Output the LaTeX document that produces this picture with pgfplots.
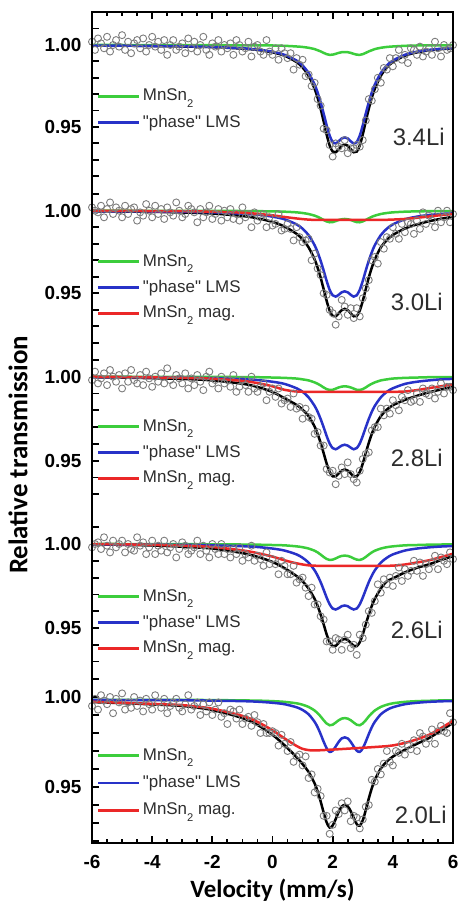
\documentclass[border=0pt]{standalone}
\usepackage{fontspec}
\setmainfont{Liberation Sans}
\newfontfamily\labelfont{Carlito}
\usepackage{pgfplots}
\pgfplotsset{compat=1.18}

\definecolor{cgreen}{RGB}{60,205,60}
\definecolor{cblue}{RGB}{40,50,200}
\definecolor{cred}{RGB}{235,40,40}
\definecolor{cdots}{RGB}{125,125,125}
\definecolor{ctext}{RGB}{45,45,45}

% chemical subscript used in the legend entries
\newcommand\sub[1]{\raisebox{-0.38em}{\fontsize{5.6}{6}\selectfont #1}}
\newcommand\phaseLMS{\textquotedbl phase\textquotedbl\ LMS}

\pgfplotsset{
  panel/.style={
    width=180.5bp, scale only axis, anchor=north west,
    xmin=-6, xmax=6,
    axis line style={draw=none},
    tick align=inside,
    ytick pos=left,
    xtick={-6,-4,...,6}, minor x tick num=3,
    major tick length=3.5bp, minor tick length=2bp,
    tick style={black, line width=0.9bp},
    tick label style={font=\fontsize{9.5}{10}\selectfont\bfseries},
    yticklabel style={xshift=-1.8bp},
    legend cell align=left,
    legend style={draw=none, fill=none, inner sep=0pt, outer sep=0pt,
      font=\fontsize{8.5}{9}\selectfont, text=ctext,
      anchor=north west, row sep=4.2bp, column sep=0.6bp,
      nodes={inner sep=0.6bp}},
    legend image code/.code={\draw[##1] (0bp,0bp) -- (20.5bp,0bp);},
  },
  dots/.style={only marks, mark=o, mark size=1.75bp, color=cdots,
    mark options={line width=0.45bp}, forget plot},
  fitline/.style={line width=1.25bp, smooth, no markers},
}
\tikzset{sample/.style={anchor=east, inner sep=0pt, text=ctext,
    font=\fontsize{12}{14}\selectfont}}

\begin{document}
\begin{tikzpicture}
\useasboundingbox (0bp,0bp) rectangle (229bp,-451bp);

% ---------------- 3.4Li ----------------
\begin{axis}[panel, at={(46bp,-6bp)}, height=84bp,
  ymin=0.91768, ymax=1.02012,
  xtick pos=right, xticklabels={},
  ytick={0.92,0.93,0.94,0.95,0.96,0.97,0.98,0.99,1.00,1.01},
  yticklabels={,,,0.95,,,,,1.00,},
  legend style={at={(axis cs:-5.834,0.9738)}}]
\addplot[dots] coordinates {
(-6.0,1.002)(-5.9,0.997)(-5.8,1.004)(-5.7,1.001)(-5.6,0.998)(-5.5,1.005)(-5.4,0.996)(-5.3,1.000)(-5.2,1.003)(-5.1,0.999)
(-5.0,1.006)(-4.9,0.997)(-4.8,1.002)(-4.7,0.995)(-4.6,1.001)(-4.5,1.003)(-4.4,0.998)(-4.3,1.004)(-4.2,0.996)(-4.1,1.000)
(-4.0,1.005)(-3.9,0.999)(-3.8,1.002)(-3.7,0.997)(-3.6,1.003)(-3.5,0.994)(-3.4,1.000)(-3.3,1.003)(-3.2,0.997)(-3.1,0.999)
(-3.0,1.001)(-2.9,0.995)(-2.8,1.004)(-2.7,0.998)(-2.6,1.002)(-2.5,0.996)(-2.4,1.000)(-2.3,1.005)(-2.2,0.997)(-2.1,0.994)
(-2.0,1.001)(-1.9,0.999)(-1.8,1.003)(-1.7,0.996)(-1.6,1.000)(-1.5,0.998)(-1.4,1.001)(-1.3,0.994)(-1.2,1.003)(-1.1,1.000)
(-1.0,0.996)(-0.9,0.998)(-0.8,1.002)(-0.7,0.993)(-0.6,0.999)(-0.5,1.000)(-0.4,0.996)(-0.3,0.994)(-0.2,1.003)(-0.1,0.996)
(0.0,0.994)(0.1,0.998)(0.2,0.991)(0.3,0.998)(0.4,0.995)(0.5,0.992)(0.6,0.995)(0.7,0.985)(0.8,0.992)(0.9,0.988)
(1.0,0.991)(1.1,0.981)(1.2,0.982)(1.3,0.975)(1.4,0.977)(1.5,0.967)(1.6,0.963)(1.7,0.949)(1.8,0.948)(1.9,0.939)
(2.0,0.932)(2.1,0.940)(2.2,0.938)(2.3,0.937)(2.4,0.942)(2.5,0.934)(2.6,0.937)(2.7,0.937)(2.8,0.939)(2.9,0.938)
(3.0,0.942)(3.1,0.954)(3.2,0.967)(3.3,0.966)(3.4,0.973)(3.5,0.980)(3.6,0.977)(3.7,0.986)(3.8,0.985)(3.9,0.992)
(4.0,0.987)(4.1,0.992)(4.2,0.997)(4.3,0.991)(4.4,0.994)(4.5,0.989)(4.6,0.998)(4.7,0.997)(4.8,0.994)(4.9,0.999)
(5.0,0.993)(5.1,0.996)(5.2,0.998)(5.3,0.994)(5.4,1.002)(5.5,0.998)(5.6,0.993)(5.7,1.000)(5.8,0.997)(5.9,0.998)(6.0,1.000)};
\addplot[fitline, black, forget plot] coordinates {
(-6,0.9996)(-5,0.9996)(-4,0.9994)(-3,0.9991)(-2,0.9987)(-1,0.9978)(-0.5,0.9970)(0,0.9955)(0.4,0.9935)(0.8,0.9896)(1.0,0.9863)(1.2,0.9812)(1.4,0.9733)(1.5,0.9678)(1.6,0.9611)(1.7,0.9534)(1.8,0.9454)(1.9,0.9387)(2.0,0.9350)(2.1,0.9346)(2.2,0.9365)(2.3,0.9386)(2.4,0.9394)(2.5,0.9386)(2.6,0.9365)(2.7,0.9346)(2.8,0.9350)(2.9,0.9387)(3.0,0.9454)(3.1,0.9534)(3.2,0.9611)(3.3,0.9678)(3.4,0.9733)(3.6,0.9812)(3.8,0.9863)(4.0,0.9896)(4.4,0.9935)(4.8,0.9955)(5.2,0.9967)(5.6,0.9975)(6,0.9980)};
\addplot[fitline, cgreen] coordinates {
(-6,1.0000)(-5,1.0000)(-4,0.9999)(-3,0.9999)(-2,0.9999)(-1,0.9998)(-0.5,0.9998)(0,0.9997)(0.4,0.9995)(0.8,0.9991)(1.0,0.9988)(1.2,0.9983)(1.4,0.9975)(1.5,0.9968)(1.6,0.9961)(1.7,0.9952)(1.8,0.9944)(1.9,0.9940)(2.0,0.9941)(2.1,0.9946)(2.2,0.9952)(2.3,0.9956)(2.4,0.9957)(2.5,0.9956)(2.6,0.9952)(2.7,0.9946)(2.8,0.9941)(2.9,0.9940)(3.0,0.9944)(3.1,0.9952)(3.2,0.9961)(3.3,0.9968)(3.4,0.9975)(3.6,0.9983)(3.8,0.9988)(4.0,0.9991)(4.4,0.9995)(4.8,0.9997)(5.2,0.9998)(5.6,0.9998)(6,0.9999)};
\addlegendentry{MnSn\sub{2}}
\addplot[fitline, cblue] coordinates {
(-6,0.9997)(-5,0.9996)(-4,0.9994)(-3,0.9992)(-2,0.9988)(-1,0.9980)(-0.5,0.9972)(0,0.9959)(0.4,0.9940)(0.8,0.9905)(1.0,0.9875)(1.2,0.9829)(1.4,0.9759)(1.5,0.9710)(1.6,0.9650)(1.7,0.9582)(1.8,0.9510)(1.9,0.9447)(2.0,0.9409)(2.1,0.9400)(2.2,0.9413)(2.3,0.9430)(2.4,0.9437)(2.5,0.9430)(2.6,0.9413)(2.7,0.9400)(2.8,0.9409)(2.9,0.9447)(3.0,0.9510)(3.1,0.9582)(3.2,0.9650)(3.3,0.9710)(3.4,0.9759)(3.6,0.9829)(3.8,0.9875)(4.0,0.9905)(4.4,0.9940)(4.8,0.9959)(5.2,0.9970)(5.6,0.9977)(6,0.9982)};
\addlegendentry{\phaseLMS}
\node[sample] at (axis cs:5.735,0.9439) {3.4Li};
\end{axis}

% ---------------- 3.0Li ----------------
\begin{axis}[panel, at={(46bp,-90bp)}, height=82.5bp,
  ymin=0.9187, ymax=1.01858,
  xtick=\empty,
  ytick={0.92,0.93,0.94,0.95,0.96,0.97,0.98,0.99,1.00,1.01},
  yticklabels={,,,0.95,,,,,1.00,},
  legend style={at={(axis cs:-5.834,0.9744)}}]
\addplot[dots] coordinates {
(-6.0,1.002)(-5.9,1.000)(-5.8,0.999)(-5.7,1.003)(-5.6,0.996)(-5.5,1.001)(-5.4,1.005)(-5.3,0.998)(-5.2,1.002)(-5.1,1.000)
(-5.0,0.996)(-4.9,1.003)(-4.8,0.998)(-4.7,1.001)(-4.6,1.002)(-4.5,0.994)(-4.4,0.999)(-4.3,0.997)(-4.2,1.004)(-4.1,1.000)
(-4.0,0.996)(-3.9,1.003)(-3.8,0.998)(-3.7,1.001)(-3.6,0.995)(-3.5,1.002)(-3.4,0.999)(-3.3,0.997)(-3.2,1.005)(-3.1,1.000)
(-3.0,0.996)(-2.9,0.998)(-2.8,1.003)(-2.7,1.001)(-2.6,0.999)(-2.5,0.993)(-2.4,1.001)(-2.3,0.996)(-2.2,0.999)(-2.1,1.003)
(-2.0,0.995)(-1.9,0.998)(-1.8,1.001)(-1.7,0.994)(-1.6,1.000)(-1.5,0.996)(-1.4,1.001)(-1.3,0.995)(-1.2,0.998)(-1.1,0.994)
(-1.0,1.002)(-0.9,0.996)(-0.8,0.998)(-0.7,0.990)(-0.6,0.999)(-0.5,0.994)(-0.4,0.996)(-0.3,0.998)(-0.2,0.990)(-0.1,0.996)
(0.0,0.991)(0.1,0.992)(0.2,0.998)(0.3,0.988)(0.4,0.989)(0.5,0.992)(0.6,0.989)(0.7,0.982)(0.8,0.990)(0.9,0.984)
(1.0,0.981)(1.1,0.982)(1.2,0.983)(1.3,0.970)(1.4,0.974)(1.5,0.965)(1.6,0.961)(1.7,0.950)(1.8,0.949)(1.9,0.940)
(2.0,0.938)(2.1,0.931)(2.2,0.936)(2.3,0.946)(2.4,0.942)(2.5,0.937)(2.6,0.941)(2.7,0.935)(2.8,0.941)(2.9,0.936)
(3.0,0.947)(3.1,0.953)(3.2,0.958)(3.3,0.970)(3.4,0.972)(3.5,0.968)(3.6,0.981)(3.7,0.977)(3.8,0.984)(3.9,0.983)
(4.0,0.990)(4.1,0.986)(4.2,0.983)(4.3,0.992)(4.4,0.987)(4.5,0.993)(4.6,0.992)(4.7,0.986)(4.8,0.994)(4.9,0.989)
(5.0,0.999)(5.1,0.992)(5.2,0.997)(5.3,0.994)(5.4,0.990)(5.5,1.000)(5.6,0.993)(5.7,0.996)(5.8,1.000)(5.9,0.993)(6.0,0.998)};
\addplot[fitline, black, forget plot] coordinates {
(-6,0.9997)(-5,0.9995)(-4,0.9993)(-3,0.9989)(-2,0.9983)(-1,0.9968)(-0.5,0.9954)(0,0.9932)(0.4,0.9904)(0.8,0.9860)(1.0,0.9826)(1.2,0.9778)(1.4,0.9705)(1.5,0.9655)(1.6,0.9595)(1.7,0.9525)(1.8,0.9454)(1.9,0.9395)(2.0,0.9363)(2.1,0.9361)(2.2,0.9379)(2.3,0.9398)(2.4,0.9406)(2.5,0.9398)(2.6,0.9379)(2.7,0.9361)(2.8,0.9363)(2.9,0.9395)(3.0,0.9454)(3.1,0.9525)(3.2,0.9595)(3.3,0.9655)(3.4,0.9705)(3.6,0.9778)(3.8,0.9822)(4.0,0.9853)(4.4,0.9892)(4.8,0.9917)(5.2,0.9936)(5.6,0.9951)(6,0.9963)};
\addplot[fitline, cgreen] coordinates {
(-6,1.0000)(-5,1.0000)(-4,0.9999)(-3,0.9999)(-2,0.9999)(-1,0.9998)(-0.5,0.9997)(0,0.9996)(0.4,0.9994)(0.8,0.9990)(1.0,0.9986)(1.2,0.9980)(1.4,0.9970)(1.5,0.9963)(1.6,0.9954)(1.7,0.9944)(1.8,0.9935)(1.9,0.9930)(2.0,0.9931)(2.1,0.9937)(2.2,0.9944)(2.3,0.9948)(2.4,0.9950)(2.5,0.9948)(2.6,0.9944)(2.7,0.9937)(2.8,0.9931)(2.9,0.9930)(3.0,0.9935)(3.1,0.9944)(3.2,0.9954)(3.3,0.9963)(3.4,0.9970)(3.6,0.9980)(3.8,0.9986)(4.0,0.9990)(4.4,0.9994)(4.8,0.9996)(5.2,0.9997)(5.6,0.9998)(6,0.9998)};
\addlegendentry{MnSn\sub{2}}
\addplot[fitline, cblue] coordinates {
(-6,0.9997)(-5,0.9996)(-4,0.9995)(-3,0.9993)(-2,0.9990)(-1,0.9982)(-0.5,0.9976)(0,0.9964)(0.4,0.9948)(0.8,0.9917)(1.0,0.9891)(1.2,0.9852)(1.4,0.9791)(1.5,0.9748)(1.6,0.9697)(1.7,0.9638)(1.8,0.9575)(1.9,0.9521)(2.0,0.9488)(2.1,0.9480)(2.2,0.9491)(2.3,0.9506)(2.4,0.9512)(2.5,0.9506)(2.6,0.9491)(2.7,0.9480)(2.8,0.9488)(2.9,0.9521)(3.0,0.9575)(3.1,0.9638)(3.2,0.9697)(3.3,0.9748)(3.4,0.9791)(3.6,0.9852)(3.8,0.9891)(4.0,0.9917)(4.4,0.9948)(4.8,0.9964)(5.2,0.9974)(5.6,0.9980)(6,0.9984)};
\addlegendentry{\phaseLMS}
\addplot[fitline, cred] coordinates {
(-6,1.0000)(-5,0.9999)(-4,0.9998)(-3,0.9997)(-2,0.9994)(-1,0.9988)(-0.5,0.9981)(0,0.9972)(0.4,0.9962)(0.8,0.9953)(1.2,0.9946)(1.6,0.9944)(2.4,0.9944)(3.2,0.9944)(3.8,0.9945)(4.4,0.9950)(4.8,0.9957)(5.2,0.9965)(5.6,0.9973)(6,0.9980)};
\addlegendentry{MnSn\sub{2} mag.}
\node[sample] at (axis cs:5.67,0.9447) {3.0Li};
\end{axis}

% ---------------- 2.8Li ----------------
\begin{axis}[panel, at={(46bp,-172.5bp)}, height=82.5bp,
  ymin=0.92065, ymax=1.01887,
  xtick=\empty,
  ytick={0.93,0.94,0.95,0.96,0.97,0.98,0.99,1.00,1.01},
  yticklabels={,,0.95,,,,,1.00,},
  legend style={at={(axis cs:-5.834,0.9754)}}]
\addplot[dots] coordinates {
(-6.0,0.998)(-5.9,1.003)(-5.8,0.996)(-5.7,0.999)(-5.6,1.002)(-5.5,0.995)(-5.4,1.004)(-5.3,1.000)(-5.2,0.997)(-5.1,1.001)
(-5.0,0.993)(-4.9,1.002)(-4.8,0.997)(-4.7,1.004)(-4.6,0.998)(-4.5,0.996)(-4.4,1.001)(-4.3,0.995)(-4.2,1.003)(-4.1,0.999)
(-4.0,0.994)(-3.9,1.000)(-3.8,0.997)(-3.7,1.002)(-3.6,0.996)(-3.5,1.005)(-3.4,0.998)(-3.3,0.995)(-3.2,1.001)(-3.1,0.999)
(-3.0,0.996)(-2.9,1.002)(-2.8,0.993)(-2.7,0.999)(-2.6,0.995)(-2.5,1.001)(-2.4,0.997)(-2.3,0.992)(-2.2,1.000)(-2.1,1.003)
(-2.0,0.996)(-1.9,0.998)(-1.8,0.993)(-1.7,1.000)(-1.6,0.996)(-1.5,0.998)(-1.4,0.994)(-1.3,1.001)(-1.2,0.991)(-1.1,0.994)
(-1.0,0.998)(-0.9,0.995)(-0.8,0.991)(-0.7,1.000)(-0.6,0.993)(-0.5,0.991)(-0.4,0.994)(-0.3,0.996)(-0.2,0.986)(-0.1,0.991)
(0.0,0.993)(0.1,0.988)(0.2,0.993)(0.3,0.984)(0.4,0.986)(0.5,0.987)(0.6,0.982)(0.7,0.990)(0.8,0.981)(0.9,0.982)
(1.0,0.975)(1.1,0.981)(1.2,0.976)(1.3,0.975)(1.4,0.966)(1.5,0.967)(1.6,0.959)(1.7,0.959)(1.8,0.945)(1.9,0.943)
(2.0,0.944)(2.1,0.936)(2.2,0.941)(2.3,0.946)(2.4,0.942)(2.5,0.949)(2.6,0.942)(2.7,0.939)(2.8,0.937)(2.9,0.944)
(3.0,0.951)(3.1,0.954)(3.2,0.955)(3.3,0.968)(3.4,0.970)(3.5,0.970)(3.6,0.981)(3.7,0.977)(3.8,0.981)(3.9,0.978)
(4.0,0.986)(4.1,0.983)(4.2,0.980)(4.3,0.988)(4.4,0.986)(4.5,0.992)(4.6,0.985)(4.7,0.986)(4.8,0.990)(4.9,0.985)
(5.0,0.993)(5.1,0.990)(5.2,0.989)(5.3,0.993)(5.4,0.987)(5.5,0.991)(5.6,0.996)(5.7,0.990)(5.8,0.994)(5.9,0.994)(6.0,0.992)};
\addplot[fitline, black, forget plot] coordinates {
(-6,0.9997)(-5,0.9995)(-4,0.9991)(-3,0.9987)(-2,0.9978)(-1,0.9958)(-0.5,0.9939)(0,0.9909)(0.4,0.9872)(0.8,0.9832)(1.0,0.9804)(1.2,0.9765)(1.4,0.9703)(1.5,0.9659)(1.6,0.9606)(1.7,0.9545)(1.8,0.9483)(1.9,0.9433)(2.0,0.9407)(2.1,0.9407)(2.2,0.9424)(2.3,0.9441)(2.4,0.9448)(2.5,0.9441)(2.6,0.9424)(2.7,0.9407)(2.8,0.9407)(2.9,0.9433)(3.0,0.9483)(3.1,0.9545)(3.2,0.9606)(3.3,0.9659)(3.4,0.9703)(3.6,0.9765)(3.8,0.9804)(4.0,0.9830)(4.4,0.9862)(4.8,0.9886)(5.2,0.9907)(5.6,0.9924)(6,0.9940)};
\addplot[fitline, cgreen] coordinates {
(-6,1.0000)(-5,1.0000)(-4,0.9999)(-3,0.9999)(-2,0.9999)(-1,0.9998)(-0.5,0.9997)(0,0.9995)(0.4,0.9993)(0.8,0.9989)(1.0,0.9984)(1.2,0.9978)(1.4,0.9966)(1.5,0.9958)(1.6,0.9948)(1.7,0.9936)(1.8,0.9926)(1.9,0.9921)(2.0,0.9922)(2.1,0.9929)(2.2,0.9936)(2.3,0.9941)(2.4,0.9943)(2.5,0.9941)(2.6,0.9936)(2.7,0.9929)(2.8,0.9922)(2.9,0.9921)(3.0,0.9926)(3.1,0.9936)(3.2,0.9948)(3.3,0.9958)(3.4,0.9966)(3.6,0.9978)(3.8,0.9984)(4.0,0.9989)(4.4,0.9993)(4.8,0.9995)(5.2,0.9997)(5.6,0.9998)(6,0.9998)};
\addlegendentry{MnSn\sub{2}}
\addplot[fitline, cblue] coordinates {
(-6,0.9998)(-5,0.9997)(-4,0.9996)(-3,0.9994)(-2,0.9991)(-1,0.9985)(-0.5,0.9980)(0,0.9970)(0.4,0.9957)(0.8,0.9931)(1.0,0.9910)(1.2,0.9877)(1.4,0.9826)(1.5,0.9791)(1.6,0.9748)(1.7,0.9699)(1.8,0.9647)(1.9,0.9602)(2.0,0.9575)(2.1,0.9568)(2.2,0.9578)(2.3,0.9590)(2.4,0.9595)(2.5,0.9590)(2.6,0.9578)(2.7,0.9568)(2.8,0.9575)(2.9,0.9602)(3.0,0.9647)(3.1,0.9699)(3.2,0.9748)(3.3,0.9791)(3.4,0.9826)(3.6,0.9877)(3.8,0.9910)(4.0,0.9931)(4.4,0.9957)(4.8,0.9970)(5.2,0.9978)(5.6,0.9984)(6,0.9987)};
\addlegendentry{\phaseLMS}
\addplot[fitline, cred] coordinates {
(-6,1.0000)(-5,0.9998)(-4,0.9996)(-3,0.9993)(-2,0.9988)(-1,0.9975)(-0.5,0.9962)(0,0.9943)(0.4,0.9922)(0.8,0.9912)(1.2,0.9910)(2.0,0.9910)(3.0,0.9910)(4.0,0.9910)(4.4,0.9912)(4.8,0.9920)(5.2,0.9932)(5.6,0.9943)(6,0.9955)};
\addlegendentry{MnSn\sub{2} mag.}
\node[sample] at (axis cs:5.67,0.9516) {2.8Li};
\end{axis}

% ---------------- 2.6Li ----------------
\begin{axis}[panel, at={(46bp,-255bp)}, height=82.5bp,
  ymin=0.92202, ymax=1.02024,
  xtick=\empty,
  ytick={0.93,0.94,0.95,0.96,0.97,0.98,0.99,1.00,1.01},
  yticklabels={,,0.95,,,,,1.00,},
  legend style={at={(axis cs:-5.834,0.9738)}}]
\addplot[dots] coordinates {
(-6.0,0.998)(-5.9,1.000)(-5.8,1.001)(-5.7,0.997)(-5.6,1.004)(-5.5,0.999)(-5.4,0.995)(-5.3,1.002)(-5.2,0.998)(-5.1,1.000)
(-5.0,1.002)(-4.9,0.995)(-4.8,1.000)(-4.7,0.997)(-4.6,0.996)(-4.5,1.004)(-4.4,0.999)(-4.3,1.001)(-4.2,0.994)(-4.1,0.998)
(-4.0,1.002)(-3.9,0.994)(-3.8,0.999)(-3.7,0.996)(-3.6,1.002)(-3.5,0.995)(-3.4,0.998)(-3.3,1.000)(-3.2,0.992)(-3.1,0.997)
(-3.0,1.001)(-2.9,0.999)(-2.8,0.994)(-2.7,0.996)(-2.6,0.998)(-2.5,1.002)(-2.4,0.994)(-2.3,0.999)(-2.2,0.996)(-2.1,0.992)
(-2.0,1.000)(-1.9,0.997)(-1.8,0.994)(-1.7,1.000)(-1.6,0.994)(-1.5,0.997)(-1.4,0.992)(-1.3,0.997)(-1.2,0.994)(-1.1,0.998)
(-1.0,0.990)(-0.9,0.994)(-0.8,0.992)(-0.7,0.999)(-0.6,0.990)(-0.5,0.993)(-0.4,0.991)(-0.3,0.987)(-0.2,0.995)(-0.1,0.988)
(0.0,0.991)(0.1,0.988)(0.2,0.982)(0.3,0.990)(0.4,0.987)(0.5,0.982)(0.6,0.982)(0.7,0.987)(0.8,0.977)(0.9,0.979)
(1.0,0.980)(1.1,0.974)(1.2,0.969)(1.3,0.974)(1.4,0.964)(1.5,0.964)(1.6,0.957)(1.7,0.955)(1.8,0.942)(1.9,0.942)
(2.0,0.937)(2.1,0.944)(2.2,0.943)(2.3,0.937)(2.4,0.943)(2.5,0.946)(2.6,0.938)(2.7,0.940)(2.8,0.934)(2.9,0.946)
(3.0,0.944)(3.1,0.952)(3.2,0.960)(3.3,0.959)(3.4,0.966)(3.5,0.976)(3.6,0.971)(3.7,0.979)(3.8,0.976)(3.9,0.980)
(4.0,0.975)(4.1,0.981)(4.2,0.986)(4.3,0.978)(4.4,0.985)(4.5,0.981)(4.6,0.984)(4.7,0.990)(4.8,0.984)(4.9,0.989)
(5.0,0.981)(5.1,0.988)(5.2,0.985)(5.3,0.989)(5.4,0.993)(5.5,0.985)(5.6,0.992)(5.7,0.990)(5.8,0.988)(5.9,0.995)(6.0,0.991)};
\addplot[fitline, black, forget plot] coordinates {
(-6,0.9998)(-5,0.9995)(-4,0.9991)(-3,0.9984)(-2,0.9973)(-1,0.9946)(-0.5,0.9924)(0,0.9893)(0.4,0.9856)(0.8,0.9809)(1.0,0.9778)(1.2,0.9735)(1.4,0.9673)(1.5,0.9631)(1.6,0.9580)(1.7,0.9522)(1.8,0.9462)(1.9,0.9415)(2.0,0.9392)(2.1,0.9394)(2.2,0.9412)(2.3,0.9429)(2.4,0.9435)(2.5,0.9429)(2.6,0.9412)(2.7,0.9394)(2.8,0.9392)(2.9,0.9415)(3.0,0.9462)(3.1,0.9522)(3.2,0.9580)(3.3,0.9631)(3.4,0.9673)(3.6,0.9735)(3.8,0.9778)(4.0,0.9795)(4.4,0.9831)(4.8,0.9858)(5.2,0.9879)(5.6,0.9904)(6,0.9928)};
\addplot[fitline, cgreen] coordinates {
(-6,1.0000)(-5,1.0000)(-4,0.9999)(-3,0.9999)(-2,0.9998)(-1,0.9997)(-0.5,0.9996)(0,0.9994)(0.4,0.9992)(0.8,0.9986)(1.0,0.9981)(1.2,0.9973)(1.4,0.9960)(1.5,0.9950)(1.6,0.9937)(1.7,0.9923)(1.8,0.9911)(1.9,0.9905)(2.0,0.9907)(2.1,0.9914)(2.2,0.9923)(2.3,0.9929)(2.4,0.9931)(2.5,0.9929)(2.6,0.9923)(2.7,0.9914)(2.8,0.9907)(2.9,0.9905)(3.0,0.9911)(3.1,0.9923)(3.2,0.9937)(3.3,0.9950)(3.4,0.9960)(3.6,0.9973)(3.8,0.9981)(4.0,0.9986)(4.4,0.9992)(4.8,0.9994)(5.2,0.9996)(5.6,0.9997)(6,0.9998)};
\addlegendentry{MnSn\sub{2}}
\addplot[fitline, cblue] coordinates {
(-6,0.9998)(-5,0.9997)(-4,0.9996)(-3,0.9995)(-2,0.9992)(-1,0.9987)(-0.5,0.9982)(0,0.9973)(0.4,0.9961)(0.8,0.9938)(1.0,0.9918)(1.2,0.9889)(1.4,0.9843)(1.5,0.9811)(1.6,0.9773)(1.7,0.9728)(1.8,0.9681)(1.9,0.9641)(2.0,0.9616)(2.1,0.9610)(2.2,0.9618)(2.3,0.9630)(2.4,0.9634)(2.5,0.9630)(2.6,0.9618)(2.7,0.9610)(2.8,0.9616)(2.9,0.9641)(3.0,0.9681)(3.1,0.9728)(3.2,0.9773)(3.3,0.9811)(3.4,0.9843)(3.6,0.9889)(3.8,0.9918)(4.0,0.9938)(4.4,0.9961)(4.8,0.9973)(5.2,0.9980)(5.6,0.9985)(6,0.9988)};
\addlegendentry{\phaseLMS}
\addplot[fitline, cred] coordinates {
(-6,1.0000)(-5,0.9998)(-4,0.9995)(-3,0.9990)(-2,0.9982)(-1,0.9962)(-0.5,0.9946)(0,0.9925)(0.4,0.9903)(0.8,0.9885)(1.2,0.9873)(1.6,0.9870)(2.4,0.9870)(3.2,0.9870)(3.8,0.9870)(4.0,0.9871)(4.4,0.9878)(4.8,0.9890)(5.2,0.9903)(5.6,0.9922)(6,0.9942)};
\addlegendentry{MnSn\sub{2} mag.}
\node[sample] at (axis cs:5.67,0.9488) {2.6Li};
\end{axis}

% ---------------- 2.0Li ----------------
\begin{axis}[panel, at={(46bp,-337.5bp)}, height=84bp,
  ymin=0.91889, ymax=1.01222,
  xtick pos=left, xticklabels={-6,-4,-2,0,2,4,6},
  xticklabel style={anchor=base, yshift=-12.75bp},
  ytick={0.92,0.93,0.94,0.95,0.96,0.97,0.98,0.99,1.00,1.01},
  yticklabels={,,,0.95,,,,,1.00,},
  xlabel={Velocity (mm/s)},
  xlabel style={font=\labelfont\bfseries\fontsize{12.5}{14}\selectfont,
    at={(axis description cs:0.5,0)}, anchor=base, yshift=-27bp},
  legend style={at={(axis cs:-5.834,0.9722)}, row sep=5bp}]
\addplot[dots] coordinates {
(-6.0,0.995)(-5.9,0.999)(-5.8,0.993)(-5.7,1.001)(-5.6,0.998)(-5.5,0.996)(-5.4,1.000)(-5.3,0.991)(-5.2,0.999)(-5.1,0.997)
(-5.0,1.002)(-4.9,0.993)(-4.8,0.997)(-4.7,0.994)(-4.6,1.000)(-4.5,0.995)(-4.4,0.998)(-4.3,0.992)(-4.2,0.999)(-4.1,0.996)
(-4.0,0.993)(-3.9,1.001)(-3.8,0.997)(-3.7,0.994)(-3.6,0.999)(-3.5,0.991)(-3.4,0.995)(-3.3,0.997)(-3.2,0.999)(-3.1,0.994)
(-3.0,0.992)(-2.9,0.996)(-2.8,1.001)(-2.7,0.993)(-2.6,0.995)(-2.5,0.997)(-2.4,0.990)(-2.3,0.996)(-2.2,0.992)(-2.1,0.997)
(-2.0,0.990)(-1.9,0.993)(-1.8,0.997)(-1.7,0.989)(-1.6,0.991)(-1.5,0.985)(-1.4,0.993)(-1.3,0.992)(-1.2,0.988)(-1.1,0.993)
(-1.0,0.985)(-0.9,0.988)(-0.8,0.989)(-0.7,0.984)(-0.6,0.990)(-0.5,0.986)(-0.4,0.980)(-0.3,0.985)(-0.2,0.980)(-0.1,0.980)
(0.0,0.981)(0.1,0.980)(0.2,0.973)(0.3,0.979)(0.4,0.974)(0.5,0.970)(0.6,0.975)(0.7,0.964)(0.8,0.967)(0.9,0.968)
(1.0,0.962)(1.1,0.967)(1.2,0.955)(1.3,0.957)(1.4,0.947)(1.5,0.949)(1.6,0.945)(1.7,0.934)(1.8,0.934)(1.9,0.924)
(2.0,0.929)(2.1,0.937)(2.2,0.935)(2.3,0.941)(2.4,0.937)(2.5,0.942)(2.6,0.931)(2.7,0.934)(2.8,0.933)(2.9,0.927)
(3.0,0.932)(3.1,0.939)(3.2,0.940)(3.3,0.954)(3.4,0.953)(3.5,0.960)(3.6,0.957)(3.7,0.963)(3.8,0.970)(3.9,0.964)
(4.0,0.962)(4.1,0.970)(4.2,0.969)(4.3,0.974)(4.4,0.968)(4.5,0.973)(4.6,0.971)(4.7,0.976)(4.8,0.970)(4.9,0.980)
(5.0,0.978)(5.1,0.974)(5.2,0.977)(5.3,0.982)(5.4,0.974)(5.5,0.981)(5.6,0.984)(5.7,0.981)(5.8,0.980)(5.9,0.991)(6.0,0.986)};
\addplot[fitline, black, forget plot] coordinates {
(-6,0.9972)(-5,0.9966)(-4,0.9959)(-3,0.9950)(-2,0.9928)(-1,0.9883)(-0.5,0.9845)(0,0.9790)(0.4,0.9732)(0.8,0.9666)(1.0,0.9627)(1.2,0.9584)(1.4,0.9520)(1.5,0.9475)(1.6,0.9420)(1.7,0.9358)(1.8,0.9303)(1.9,0.9275)(2.0,0.9286)(2.1,0.9322)(2.2,0.9362)(2.3,0.9391)(2.4,0.9401)(2.5,0.9393)(2.6,0.9366)(2.7,0.9328)(2.8,0.9294)(2.9,0.9285)(3.0,0.9315)(3.1,0.9372)(3.2,0.9436)(3.3,0.9493)(3.4,0.9539)(3.6,0.9603)(3.8,0.9642)(4.0,0.9669)(4.4,0.9707)(4.8,0.9740)(5.2,0.9772)(5.6,0.9813)(6,0.9857)};
\addplot[fitline, cgreen] coordinates {
(-6,0.9984)(-5,0.9984)(-4,0.9984)(-3,0.9984)(-2,0.9983)(-1,0.9981)(-0.5,0.9980)(0,0.9977)(0.4,0.9973)(0.8,0.9965)(1.0,0.9957)(1.2,0.9945)(1.4,0.9925)(1.5,0.9910)(1.6,0.9892)(1.7,0.9871)(1.8,0.9853)(1.9,0.9843)(2.0,0.9846)(2.1,0.9858)(2.2,0.9871)(2.3,0.9880)(2.4,0.9883)(2.5,0.9880)(2.6,0.9871)(2.7,0.9858)(2.8,0.9846)(2.9,0.9843)(3.0,0.9853)(3.1,0.9871)(3.2,0.9892)(3.3,0.9910)(3.4,0.9925)(3.6,0.9945)(3.8,0.9957)(4.0,0.9965)(4.4,0.9973)(4.8,0.9977)(5.2,0.9979)(5.6,0.9981)(6,0.9982)};
\addlegendentry{MnSn\sub{2}}
\addplot[fitline, cblue] coordinates {
(-6,0.9984)(-5,0.9983)(-4,0.9983)(-3,0.9982)(-2,0.9980)(-1,0.9977)(-0.5,0.9974)(0,0.9968)(0.4,0.9960)(0.8,0.9943)(1.0,0.9928)(1.2,0.9904)(1.4,0.9862)(1.5,0.9832)(1.6,0.9794)(1.7,0.9752)(1.8,0.9715)(1.9,0.9695)(2.0,0.9702)(2.1,0.9725)(2.2,0.9751)(2.3,0.9770)(2.4,0.9776)(2.5,0.9770)(2.6,0.9751)(2.7,0.9725)(2.8,0.9702)(2.9,0.9695)(3.0,0.9715)(3.1,0.9752)(3.2,0.9794)(3.3,0.9832)(3.4,0.9862)(3.6,0.9904)(3.8,0.9928)(4.0,0.9943)(4.4,0.9960)(4.8,0.9968)(5.2,0.9973)(5.6,0.9976)(6,0.9978)};
\addlegendentry{\phaseLMS}
\addplot[fitline, cred] coordinates {
(-6,0.9974)(-5,0.9968)(-4,0.9962)(-3,0.9955)(-2,0.9935)(-1,0.9895)(-0.5,0.9862)(0,0.9815)(0.4,0.9770)(0.8,0.9728)(1.0,0.9712)(1.2,0.9705)(1.4,0.9703)(2.0,0.9708)(2.6,0.9714)(3.2,0.9720)(3.8,0.9727)(4.0,0.9731)(4.4,0.9745)(4.8,0.9765)(5.2,0.9790)(5.6,0.9827)(6,0.9868)};
\addlegendentry{MnSn\sub{2} mag.}
\node[sample] at (axis cs:5.8,0.9344) {2.0Li};
\end{axis}

% outer frame shared by the stacked spectra
\draw[line width=1.2bp] (46bp,-6bp) rectangle (226.5bp,-421.5bp);
\node[rotate=90, font=\labelfont\bfseries\fontsize{13.5}{15}\selectfont]
  at (9bp,-227.5bp) {Relative transmission};
\end{tikzpicture}
\end{document}
